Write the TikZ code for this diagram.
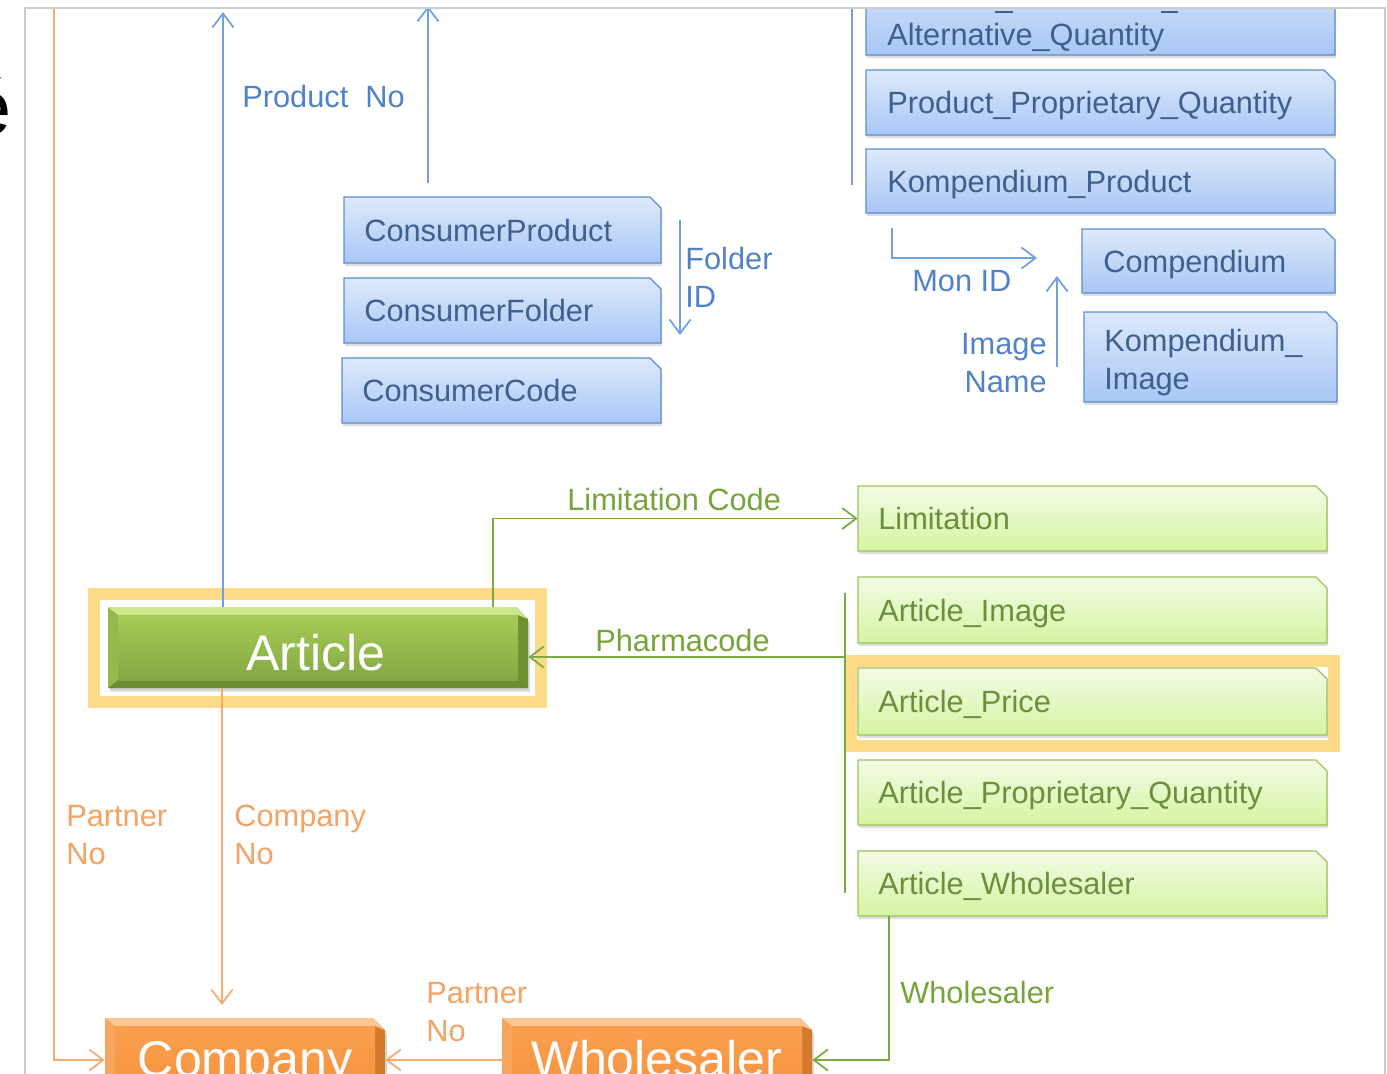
\documentclass[tikz,border=0pt]{standalone}
\usepackage{fontspec}
\setmainfont{Liberation Sans}
\usetikzlibrary{arrows.meta,shadows,fit,calc}
\definecolor{framec}{HTML}{CCCCCC}
\definecolor{hlc}{HTML}{FDDA88}
\definecolor{bluebord}{HTML}{5C8CD6}
\definecolor{bluetop}{HTML}{DDE9FC}
\definecolor{bluebot}{HTML}{A8C7F5}
\definecolor{bluetext}{HTML}{3F5F8F}
\definecolor{bluelbl}{HTML}{5082C8}
\definecolor{blueline}{HTML}{72A0E2}
\definecolor{greenbord}{HTML}{9DC25B}
\definecolor{greentop}{HTML}{F3FBE6}
\definecolor{greenbot}{HTML}{D5F4A2}
\definecolor{greentext}{HTML}{6B8F3B}
\definecolor{greenlbl}{HTML}{76A43A}
\definecolor{greenline}{HTML}{7BAA45}
\definecolor{orglbl}{HTML}{F2A365}
\definecolor{orgline}{HTML}{F5AA70}
% bevel palettes
\definecolor{artf1}{HTML}{A6CB55}
\definecolor{artf2}{HTML}{83A843}
\definecolor{arttop}{HTML}{CDE78E}
\definecolor{artleft}{HTML}{93BB4C}
\definecolor{artright}{HTML}{6C9231}
\definecolor{artbot}{HTML}{6A8C33}
\definecolor{orgf1}{HTML}{F9A04F}
\definecolor{orgf2}{HTML}{F6923D}
\definecolor{orgtop}{HTML}{FCC592}
\definecolor{orgleft}{HTML}{F8A65E}
\definecolor{orgright}{HTML}{D47A2C}
\definecolor{orgbot}{HTML}{D07A30}
\newcommand\lblfont{\fontsize{17.5}{21.5}\selectfont}
\newcommand\bigfont{\fontsize{28.5}{34}\selectfont}
\tikzset{
  bshape/.style={draw=bluebord, line width=0.8pt, top color=bluetop, bottom color=bluebot,
    drop shadow={shadow xshift=0.6pt, shadow yshift=-1.8pt, opacity=0.25}},
  gshape/.style={draw=greenbord, line width=0.8pt, top color=greentop, bottom color=greenbot,
    drop shadow={shadow xshift=0.6pt, shadow yshift=-1.8pt, opacity=0.25}},
  btxt/.style={anchor=base west, inner sep=0pt, text=bluetext, font=\lblfont},
  gtxt/.style={anchor=base west, inner sep=0pt, text=greentext, font=\lblfont},
  blbl/.style={anchor=base west, inner sep=0pt, text=bluelbl, font=\lblfont},
  glbl/.style={anchor=base west, inner sep=0pt, text=greenlbl, font=\lblfont},
  olbl/.style={anchor=base west, inner sep=0pt, text=orglbl, font=\lblfont},
  wtxt/.style={anchor=base, inner sep=0pt, text=white, font=\bigfont},
  barbtip/.style={-{Straight Barb[length=8pt,width=12pt]}},
  bline/.style={draw=blueline, line width=1pt},
  gline/.style={draw=greenline, line width=1pt},
  oline/.style={draw=orgline, line width=1pt},
  barrow/.style={bline, barbtip},
  garrow/.style={gline, barbtip},
  oarrow/.style={oline, barbtip},
  hlframe/.style={draw=hlc, line width=6.8pt},
}
% cut-corner box: name, x1, y1, x2, y2, style
\newcommand\cutbox[6]{%
  \path[#6] (#2,#5) -- (#2,#3) -- ({#4-11},#3) -- (#4,{#3+11}) -- (#4,#5) -- cycle;
  \node[fit={(#2,#3) (#4,#5)}, inner sep=0pt] (#1) {};
}
% bevelled box: name, x1, y1, x2, y2, palette
\newcommand\bevbox[6]{%
  \fill[#6right, drop shadow={shadow xshift=1pt, shadow yshift=-2pt, opacity=0.3}]
    (#2,#5) -- (#2,#3) -- ({#4-12},#3) -- (#4,{#3+12}) -- (#4,#5) -- cycle;
  \fill[#6bot] (#2,#5) -- ({#2+10},{#5-8}) -- ({#4-10},{#5-8}) -- (#4,#5) -- cycle;
  \fill[#6left] (#2,#3) -- ({#2+10},{#3+8}) -- ({#2+10},{#5-8}) -- (#2,#5) -- cycle;
  \fill[#6top] (#2,#3) -- ({#4-12},#3) -- (#4,{#3+12}) -- ({#4-10},{#3+8}) -- ({#2+10},{#3+8}) -- cycle;
  \shade[top color=#6f1, bottom color=#6f2] ({#2+10},{#3+8}) rectangle ({#4-10},{#5-8});
  \node[fit={(#2,#3) (#4,#5)}, inner sep=0pt] (#1) {};
}
\begin{document}
\begin{tikzpicture}[x=0.02cm, y=-0.02cm]
\useasboundingbox (0,0) rectangle (1387,1073);
\fill[white] (0,0) rectangle (1387,1073);
% stray glyph at the left edge
\node[anchor=base east, inner sep=0pt, font=\fontsize{44}{50}\selectfont] (eglyph) at (12,134) {é};
\begin{scope}
\clip (25,8) rectangle (1385,1110);
% highlight frames
\draw[hlframe] (94,594) rectangle (541,702);
\draw[hlframe] (851,661) rectangle (1334,746);
% blue boxes (top right)
\cutbox{altq}{866}{-40}{1335}{55}{bshape}
\node[btxt] (altqt) at (887,45) {Alternative\_Quantity};
\draw[bluetext, line width=1.1pt] (995,12) -- (1013,12);
\draw[bluetext, line width=1.1pt] (1161,12) -- (1178,12);
\cutbox{ppq}{866}{70}{1335}{135}{bshape}
\node[btxt] (ppqt) at (887,113.5) {Product\_Proprietary\_Quantity};
\cutbox{kp}{866}{149}{1335}{213}{bshape}
\node[btxt] (kpt) at (887,192) {Kompendium\_Product};
\cutbox{comppd}{1082}{229}{1335}{293}{bshape}
\node[btxt] (comppdt) at (1103,272) {Compendium};
\cutbox{kimg}{1084}{312}{1337}{402}{bshape}
\node[btxt] (kimgt1) at (1104,351) {Kompendium\_};
\node[btxt] (kimgt2) at (1104,389) {Image};
% consumer boxes
\cutbox{cprod}{344}{197}{661}{263}{bshape}
\node[btxt] (cprodt) at (364,241) {ConsumerProduct};
\cutbox{cfold}{344}{278}{661}{343}{bshape}
\node[btxt] (cfoldt) at (364,321.5) {ConsumerFolder};
\cutbox{ccode}{342}{358}{661}{423}{bshape}
\node[btxt] (ccodet) at (362,401.5) {ConsumerCode};
% green boxes
\cutbox{lim}{858}{486}{1327}{551}{gshape}
\node[gtxt] (limt) at (878,529.5) {Limitation};
\cutbox{aimg}{858}{577}{1327}{643}{gshape}
\node[gtxt] (aimgt) at (878,621) {Article\_Image};
\cutbox{aprice}{858}{668}{1327}{735}{gshape}
\node[gtxt] (apricet) at (878,712.5) {Article\_Price};
\cutbox{apq}{858}{760}{1327}{825}{gshape}
\node[gtxt] (apqt) at (878,803.5) {Article\_Proprietary\_Quantity};
\cutbox{aw}{858}{851}{1327}{916}{gshape}
\node[gtxt] (awt) at (878,894.5) {Article\_Wholesaler};
% bevelled boxes
\bevbox{art}{108}{607}{528}{688}{art}
\node[wtxt] (artt) at (316,670) {Article};
\bevbox{comp}{105}{1018}{385}{1102}{org}
\node[wtxt] (compt) at (245,1076) {Company};
\bevbox{whs}{502}{1018}{812}{1102}{org}
\node[wtxt] (whst) at (657,1076) {Wholesaler};
% blue connectors
\coordinate (pnoend) at (223,12);
\draw[barrow] (art.north -| pnoend) -- (pnoend);
\node[blbl] (lpno) at (242,107) {Product\ \ No};
\coordinate (cpbot) at (428,183);
\coordinate (cptop) at (428,6);
\draw[barrow] (cpbot) -- (cptop);
\coordinate (brA) at (852,6);
\coordinate (brB) at (852,185);
\draw[bline] (brA) -- (brB);
\coordinate (fa) at (680,220);
\coordinate (fb) at (680,335);
\draw[barrow] (fa) -- (fb);
\node[blbl] (lfid1) at (685,269) {Folder};
\node[blbl] (lfid2) at (685,307) {ID};
\coordinate (ma) at (892,228);
\coordinate (mb) at (1037,258);
\draw[barrow] (ma) |- (mb);
\node[blbl] (lmon) at (912,291) {Mon ID};
\coordinate (ia) at (1057,367);
\coordinate (ib) at (1057,276);
\draw[barrow] (ia) -- (ib);
\node[blbl, anchor=base east] (limg1) at (1047,354) {Image};
\node[blbl, anchor=base east] (limg2) at (1047,392) {Name};
% green connectors
\coordinate (lcx) at (493,0);
\draw[garrow] (art.north -| lcx) |- (lim.west);
\node[glbl] (llc) at (567,510) {Limitation Code};
\coordinate (ph) at (845,657);
\draw[garrow] (ph) -- (art.east |- ph);
\coordinate (gb1) at (845,593);
\coordinate (gb2) at (845,893);
\draw[gline] (gb1) -- (gb2);
\node[glbl] (lph) at (595,651) {Pharmacode};
\coordinate (wx) at (889,0);
\draw[garrow] (aw.south -| wx) |- (whs.east);
\node[glbl] (lwh) at (900,1003) {Wholesaler};
% orange connectors
\coordinate (cn) at (222,1005);
\draw[oarrow] (art.south -| cn) -- (cn);
\node[olbl] (lcn1) at (234,826) {Company};
\node[olbl] (lcn2) at (234,864) {No};
\coordinate (plx) at (54,6);
\draw[oarrow] (plx) |- (comp.west);
\node[olbl] (lpl1) at (66,826) {Partner};
\node[olbl] (lpl2) at (66,864) {No};
\draw[oarrow] (whs.west) -- (comp.east);
\node[olbl] (lpb1) at (426,1003) {Partner};
\node[olbl] (lpb2) at (426,1041) {No};
\end{scope}
% screenshot frame
\draw[framec, line width=0.9pt] (25,1090) -- (25,8) -- (1385,8) -- (1385,1090);
\end{tikzpicture}
\end{document}
